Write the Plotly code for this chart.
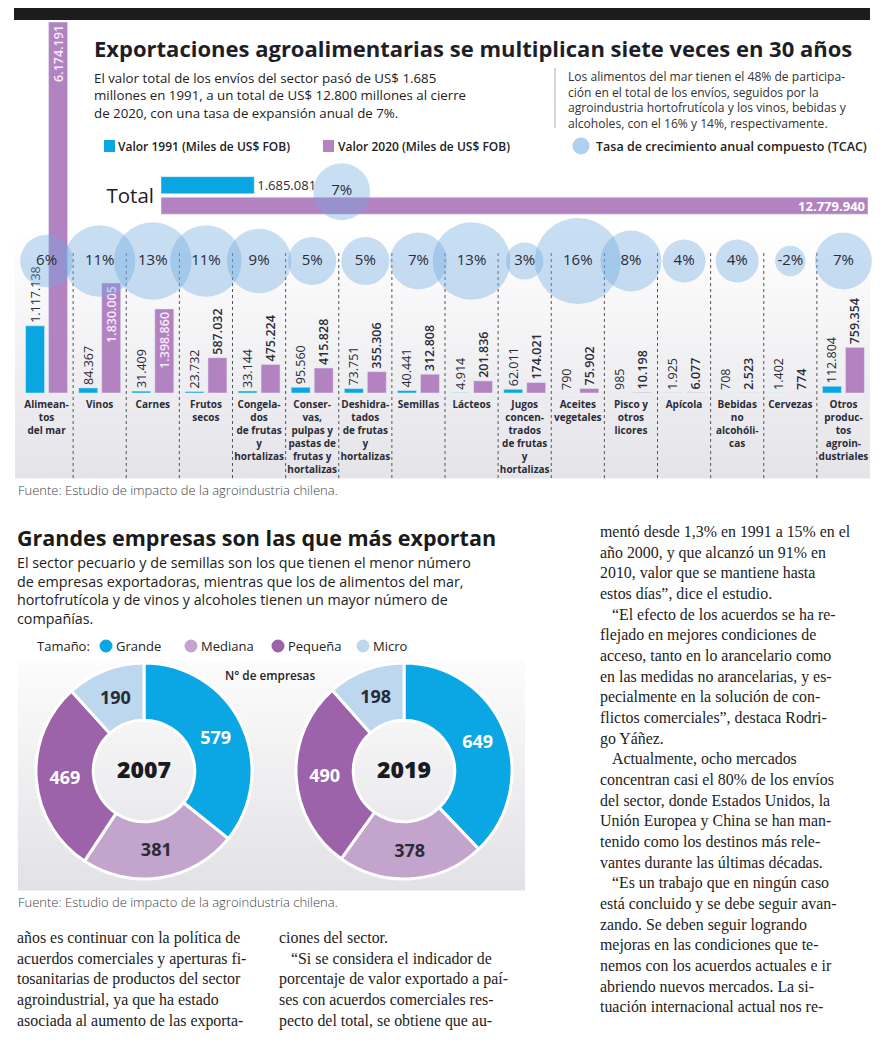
import plotly.graph_objects as go

W, H = 884, 1054
SANS = "Open Sans"
SERIF = "Liberation Serif"
IND = "\u00a0\u00a0\u00a0"

# ---------------- DATA ----------------
categories = ["Alimentos del mar", "Vinos", "Carnes", "Frutos secos",
              "Congelados de frutas y hortalizas",
              "Conservas, pulpas y pastas de frutas y hortalizas",
              "Deshidratados de frutas y hortalizas", "Semillas", "Lácteos",
              "Jugos concentrados de frutas y hortalizas", "Aceites vegetales",
              "Pisco y otros licores", "Apícola", "Bebidas no alcohólicas",
              "Cervezas", "Otros productos agroindustriales"]
tick_labels = ["Alimean-<br>tos<br>del mar", "Vinos", "Carnes", "Frutos<br>secos",
               "Congela-<br>dos<br>de frutas<br>y<br>hortalizas",
               "Conser-<br>vas,<br>pulpas y<br>pastas de<br>frutas y<br>hortalizas",
               "Deshidra-<br>tados<br>de frutas<br>y<br>hortalizas", "Semillas", "Lácteos",
               "Jugos<br>concen-<br>trados<br>de frutas<br>y<br>hortalizas",
               "Aceites<br>vegetales", "Pisco y<br>otros<br>licores", "Apícola",
               "Bebidas<br>no<br>alcohóli-<br>cas", "Cervezas",
               "Otros<br>produc-<br>tos<br>agroin-<br>dustriales"]
valor_1991 = [1117138, 84367, 31409, 23732, 33144, 95560, 73751, 40441,
              4914, 62011, 790, 985, 1925, 708, 1402, 112804]
valor_2020 = [6174191, 1830005, 1398860, 587032, 475224, 415828, 355306, 312808,
              201836, 174021, 75902, 10198, 6077, 2523, 774, 759354]
tcac = [6, 11, 13, 11, 9, 5, 5, 7, 13, 3, 16, 8, 4, 4, -2, 7]

total_label = ["Total"]
total_1991 = [1685081]
total_2020 = [12779940]
total_tcac = [7]

tamanos = ["Grande", "Mediana", "Pequeña", "Micro"]
empresas_2007 = [579, 381, 469, 190]
empresas_2019 = [649, 378, 490, 198]

# ---------------- STYLE ----------------
BLUE = "#0aa6e2"
PURPLE = "#b383c1"
BUBBLE = "rgba(110,170,225,0.55)"
DARK = "#2b2b38"
PIE_COLORS = ["#0aa7e4", "#c3a4cc", "#9c62aa", "#bdd7ee"]
PIE_TEXT = ["white", "#2b2b38", "white", "#2b2b38"]


def fx(p):
    return p / W


def fy(p):
    return 1 - p / H


BUBBLE_SIZEREF = 1 / (2 * 10.75 ** 2)

fig = go.Figure()

# main bars
fig.add_trace(go.Bar(
    x=categories, y=valor_1991, marker_color=BLUE, xaxis="x", yaxis="y",
    texttemplate="%{y:,.0f}", textposition="outside", textangle=-90,
    textfont=dict(size=12.5, color=DARK, family=SANS, weight=500),
    cliponaxis=False, constraintext="none", hoverinfo="skip"))
pos2020 = ["inside" if v > 1_000_000 else "outside" for v in valor_2020]
col2020 = ["#f7ecf9" if p == "inside" else DARK for p in pos2020]
fig.add_trace(go.Bar(
    x=categories, y=valor_2020, marker_color=PURPLE, xaxis="x", yaxis="y",
    texttemplate="%{y:,.0f}", textposition=pos2020, insidetextanchor="end",
    textangle=-90, textfont=dict(size=12.5, color=col2020, family=SANS, weight=600),
    cliponaxis=False, constraintext="none", hoverinfo="skip"))

# bubbles (TCAC)
fig.add_trace(go.Scatter(
    x=categories, y=[0] * len(categories), xaxis="x", yaxis="y3",
    mode="markers+text", text=[f"{v}%" for v in tcac], textposition="middle center",
    textfont=dict(size=15, color=DARK, family=SANS, weight=500),
    marker=dict(size=[abs(v) for v in tcac], sizemode="area", sizeref=BUBBLE_SIZEREF,
                color=BUBBLE, line=dict(width=0)),
    cliponaxis=False, hoverinfo="skip"))

# total bars
fig.add_trace(go.Bar(
    y=total_label, x=total_1991, orientation="h", marker_color=BLUE,
    xaxis="x2", yaxis="y2", texttemplate="%{x:,.0f}", textposition="outside",
    textfont=dict(size=13, color=DARK, family=SANS, weight=500),
    cliponaxis=False, constraintext="none", hoverinfo="skip"))
fig.add_trace(go.Bar(
    y=total_label, x=total_2020, orientation="h", marker_color=PURPLE,
    xaxis="x2", yaxis="y2", texttemplate="%{x:,.0f}", textposition="inside",
    insidetextanchor="end",
    textfont=dict(size=13, color="white", family=SANS, weight=700),
    cliponaxis=False, constraintext="none", hoverinfo="skip"))
fig.add_trace(go.Scatter(
    x=[0], y=[0], xaxis="x4", yaxis="y4", mode="markers+text",
    text=[f"{v}%" for v in total_tcac], textposition="middle center",
    textfont=dict(size=15, color=DARK, family=SANS, weight=500),
    marker=dict(size=[abs(v) for v in total_tcac], sizemode="area",
                sizeref=BUBBLE_SIZEREF, color=BUBBLE, line=dict(width=0)),
    cliponaxis=False, hoverinfo="skip"))

# donuts
for vals, yr, (x0, x1) in [(empresas_2007, "2007", (36, 252)),
                           (empresas_2019, "2019", (296, 512))]:
    fig.add_trace(go.Pie(
        labels=tamanos, values=vals, hole=0.47, sort=False, direction="clockwise",
        rotation=0, domain=dict(x=[fx(x0), fx(x1)], y=[fy(879), fy(663)]),
        marker=dict(colors=PIE_COLORS, line=dict(color="white", width=3)),
        textinfo="value", textposition="inside", insidetextorientation="horizontal",
        textfont=dict(size=18, color=PIE_TEXT, family=SANS, weight=700),
        title=dict(text=yr, position="middle center",
                   font=dict(size=23, color="#1a1a22", family=SANS, weight=800)),
        showlegend=False, hoverinfo="skip"))

# ---------------- LAYOUT ----------------
shapes = []
annotations = []


def txt(x, y, text, size, color="#222", anchor="left", weight="normal",
        family=SANS, yanchor="middle"):
    annotations.append(dict(x=fx(x), y=fy(y), xref="paper", yref="paper", text=text,
                            showarrow=False, xanchor=anchor, yanchor=yanchor,
                            align="left", borderpad=0,
                            font=dict(size=size, color=color, family=family,
                                      weight=weight)))


def block(x, y_top, lines, size, color="#222", weight="normal", family=SANS):
    txt(x, y_top, "<br>".join(lines), size, color, weight=weight, family=family,
        yanchor="top")


def rect(x0, y0, x1, y1, color, layer="below"):
    shapes.append(dict(type="rect", xref="paper", yref="paper", x0=fx(x0), x1=fx(x1),
                       y0=fy(y1), y1=fy(y0), fillcolor=color, line=dict(width=0),
                       layer=layer))


def circle(cx, cy, r, color):
    shapes.append(dict(type="circle", xref="paper", yref="paper", x0=fx(cx - r),
                       x1=fx(cx + r), y0=fy(cy + r), y1=fy(cy - r), fillcolor=color,
                       line=dict(width=0), layer="above"))


def gradient(x0, y0, x1, y1, top, bot, n=40):
    h = (y1 - y0) / n
    for i in range(n):
        t = (i + 0.5) / n
        c = tuple(round(top[k] + (bot[k] - top[k]) * t) for k in range(3))
        rect(x0, y0 + i * h, x1, y0 + (i + 1) * h + 0.6, "rgb(%d,%d,%d)" % c)


# header
rect(14, 8, 870, 20, "#1c1c1c")
txt(93, 48, "Exportaciones agroalimentarias se multiplican siete veces en 30 años",
    22, "#1e1e28", weight=700)
block(93, 68, ["El valor total de los envíos del sector pasó de US$ 1.685",
               "millones en 1991, a un total de US$ 12.800 millones al cierre",
               "de 2020, con una tasa de expansión anual de 7%."], 13.3, "#222", weight=500)
shapes.append(dict(type="line", xref="paper", yref="paper", x0=fx(555), x1=fx(555),
                   y0=fy(128), y1=fy(68), line=dict(color="#b0b0b0", width=1)))
block(567, 67, ["Los alimentos del mar tienen el 48% de participa-",
                "ción en el total de los envíos, seguidos por la",
                "agroindustria hortofrutícola y los vinos, bebidas y",
                "alcoholes, con el 16% y 14%, respectivamente."], 12.1, "#333")
rect(104, 140, 115, 152, BLUE)
txt(117, 146, "Valor 1991 (Miles de US$ FOB)", 12, "#222", weight=600)
rect(323, 140, 334, 152, PURPLE)
txt(337, 146, "Valor 2020 (Miles de US$ FOB)", 12, "#222", weight=600)
circle(581, 146, 8.5, "rgba(110,170,225,0.55)")
txt(595, 146, "Tasa de crecimiento anual compuesto (TCAC)", 12.5, "#222", weight=600)

# bar chart background + separators
gradient(15, 228, 870, 478, (255, 255, 255), (228, 228, 233))
for i in range(len(categories) - 1):
    shapes.append(dict(type="line", xref="x", yref="paper", x0=i + 0.5, x1=i + 0.5,
                       y0=fy(478), y1=fy(250), line=dict(color="#555", width=1, dash="dot"),
                       layer="below"))
txt(17, 490, "Fuente: Estudio de impacto de la agroindustria chilena.", 13, "#444",
    weight=300)

# section 2
txt(16, 537, "Grandes empresas son las que más exportan", 21.5, "#1a1a1a", weight=700)
block(16, 552, ["El sector pecuario y de semillas son los que tienen el menor número",
                "de empresas exportadoras, mientras que los de alimentos del mar,",
                "hortofrutícola y de vinos y alcoholes tienen un mayor número de",
                "compañías."], 14.3, "#222", weight=500)
txt(36, 646, "Tamaño:", 13, "#222")
for name, col, cx in zip(tamanos, PIE_COLORS, [106, 191, 278, 363]):
    circle(cx, 646, 6.5, col)
    txt(cx + 9, 646, name, 13, "#222")
gradient(18, 660, 525, 890, (252, 252, 252), (226, 226, 230))
txt(270, 675, "N° de empresas", 11.8, "#222", anchor="center", weight=600)
txt(17, 902, "Fuente: Estudio de impacto de la agroindustria chilena.", 13, "#444",
    weight=300)

# body text columns
right_col = ["mentó desde 1,3% en 1991 a 15% en el",
             "año 2000, y que alcanzó un 91% en",
             "2010, valor que se mantiene hasta",
             "estos días”, dice el estudio.",
             IND + "“El efecto de los acuerdos se ha re-",
             "flejado en mejores condiciones de",
             "acceso, tanto en lo arancelario como",
             "en las medidas no arancelarias, y es-",
             "pecialmente en la solución de con-",
             "flictos comerciales”, destaca Rodri-",
             "go Yáñez.",
             IND + "Actualmente, ocho mercados",
             "concentran casi el 80% de los envíos",
             "del sector, donde Estados Unidos, la",
             "Unión Europea y China se han man-",
             "tenido como los destinos más rele-",
             "vantes durante las últimas décadas.",
             IND + "“Es un trabajo que en ningún caso",
             "está concluido y se debe seguir avan-",
             "zando. Se deben seguir logrando",
             "mejoras en las condiciones que te-",
             "nemos con los acuerdos actuales e ir",
             "abriendo nuevos mercados. La si-",
             "tuación internacional actual nos re-"]
col1 = ["años es continuar con la política de",
        "acuerdos comerciales y aperturas fi-",
        "tosanitarias de productos del sector",
        "agroindustrial, ya que ha estado",
        "asociada al aumento de las exporta-"]
col2 = ["ciones del sector.",
        IND + "“Si se considera el indicador de",
        "porcentaje de valor exportado a paí-",
        "ses con acuerdos comerciales res-",
        "pecto del total, se obtiene que au-"]
block(599, 522, right_col, 15.9, "#222", family=SERIF)
block(16, 928, col1, 15.9, "#222", family=SERIF)
block(278, 928, col2, 15.9, "#222", family=SERIF)

# bubble-row vertical placement (0 at pixel 261)
b_frac = (393 - 261) / (393 - 22)
t_domain = (219.2, 171.7)
tb_x = (341.7 - 161) / (868 - 161)
tb_y = (t_domain[0] - 191.7) / (t_domain[0] - t_domain[1])

fig.update_layout(
    width=W, height=H, margin=dict(l=0, r=0, t=0, b=0),
    paper_bgcolor="white", plot_bgcolor="rgba(0,0,0,0)",
    font=dict(family=SANS, color="#222"),
    separators=",.", showlegend=False,
    barmode="group", bargap=0.134, bargroupgap=0.174,
    xaxis=dict(domain=[fx(20), fx(870)], type="category", range=[-0.5, len(categories) - 0.5],
               tickmode="array", tickvals=categories, ticktext=tick_labels,
               tickfont=dict(size=10, color=DARK, family=SANS, weight=700),
               showgrid=False, zeroline=False, showline=False, ticks="", anchor="y",
               ticklabelstandoff=4, fixedrange=True),
    yaxis=dict(domain=[fy(393), fy(22)], range=[0, max(valor_2020)], visible=False,
               anchor="x", fixedrange=True),
    yaxis3=dict(overlaying="y", range=[-b_frac, 1 - b_frac], visible=False, anchor="x"),
    xaxis2=dict(domain=[fx(161), fx(868)], range=[0, max(total_2020)], visible=False,
                anchor="y2", fixedrange=True),
    yaxis2=dict(domain=[fy(t_domain[0]), fy(t_domain[1])], type="category",
                autorange="reversed", anchor="x2", showgrid=False, zeroline=False,
                showline=False, ticks="", ticklabelstandoff=6,
                tickfont=dict(size=20.5, color="#1e1e28", family=SANS, weight=500)),
    xaxis4=dict(overlaying="x2", range=[-tb_x, 1 - tb_x], visible=False, anchor="y4"),
    yaxis4=dict(overlaying="y2", range=[-tb_y, 1 - tb_y], visible=False, anchor="x4"),
    shapes=shapes, annotations=annotations,
)

fig.write_html("out.html", config={"displayModeBar": False},
               post_script="document.body.style.margin='0';")
